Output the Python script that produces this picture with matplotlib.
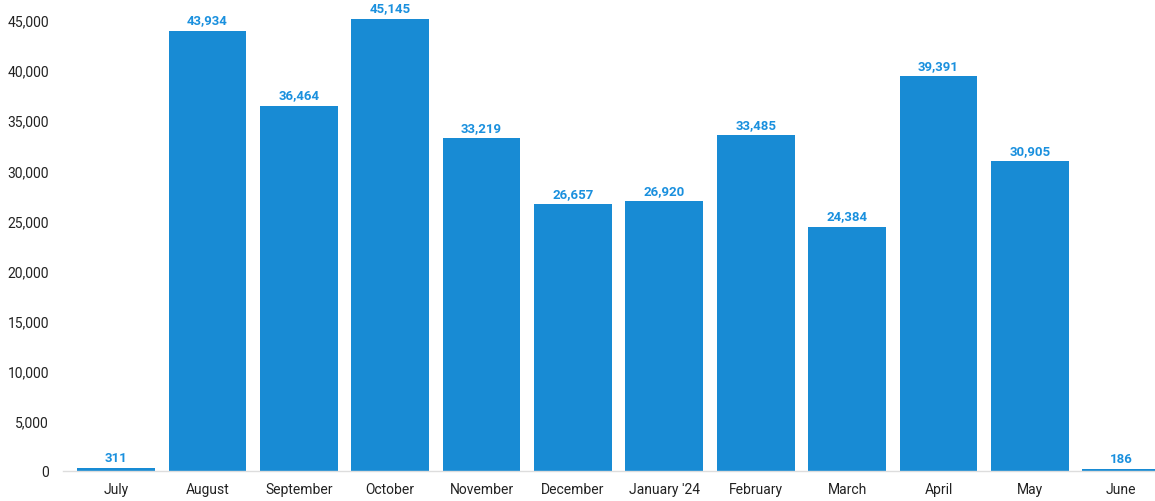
import matplotlib.pyplot as plt
from matplotlib.ticker import FuncFormatter

# data
months = ['July', 'August', 'September', 'October', 'November', 'December',
          "January '24", 'February', 'March', 'April', 'May', 'June']
values = [311, 43934, 36464, 45145, 33219, 26657, 26920, 33485, 24384, 39391, 30905, 186]
yticks = [0, 5000, 10000, 15000, 20000, 25000, 30000, 35000, 40000, 45000]

plt.rcParams['font.family'] = ['Roboto', 'DejaVu Sans']

fig = plt.figure(figsize=(11.55, 5.02), dpi=100)
ax = fig.add_axes([63 / 1155, 30 / 502, 1 - 63 / 1155, 1 - 30 / 502])

bar_color = '#188bd4'
x = list(range(len(months)))
bars = ax.bar(x, values, width=0.85, color=bar_color, zorder=2)

for b, v in zip(bars, values):
    ax.annotate(f'{v:,}', (b.get_x() + b.get_width() / 2, v),
                xytext=(0, 3), textcoords='offset points',
                ha='center', va='bottom', fontsize=9.5, fontweight='bold',
                color='#1a90de', annotation_clip=False)

ax.set_xlim(-0.58, 11.37)
ax.set_ylim(0, 47100)
ax.set_xticks(x)
ax.set_xticklabels(months, fontsize=10, color='#222222')
ax.set_yticks(yticks)
ax.yaxis.set_major_formatter(FuncFormatter(lambda v, p: f'{int(v):,}'))
ax.tick_params(axis='y', labelsize=10, colors='#222222', length=0, pad=10)
ax.tick_params(axis='x', length=0, pad=8)

for s in ['top', 'right', 'left']:
    ax.spines[s].set_visible(False)
ax.spines['bottom'].set_color('#dddddd')
ax.spines['bottom'].set_linewidth(1)

fig.savefig('out.png', dpi=100)
